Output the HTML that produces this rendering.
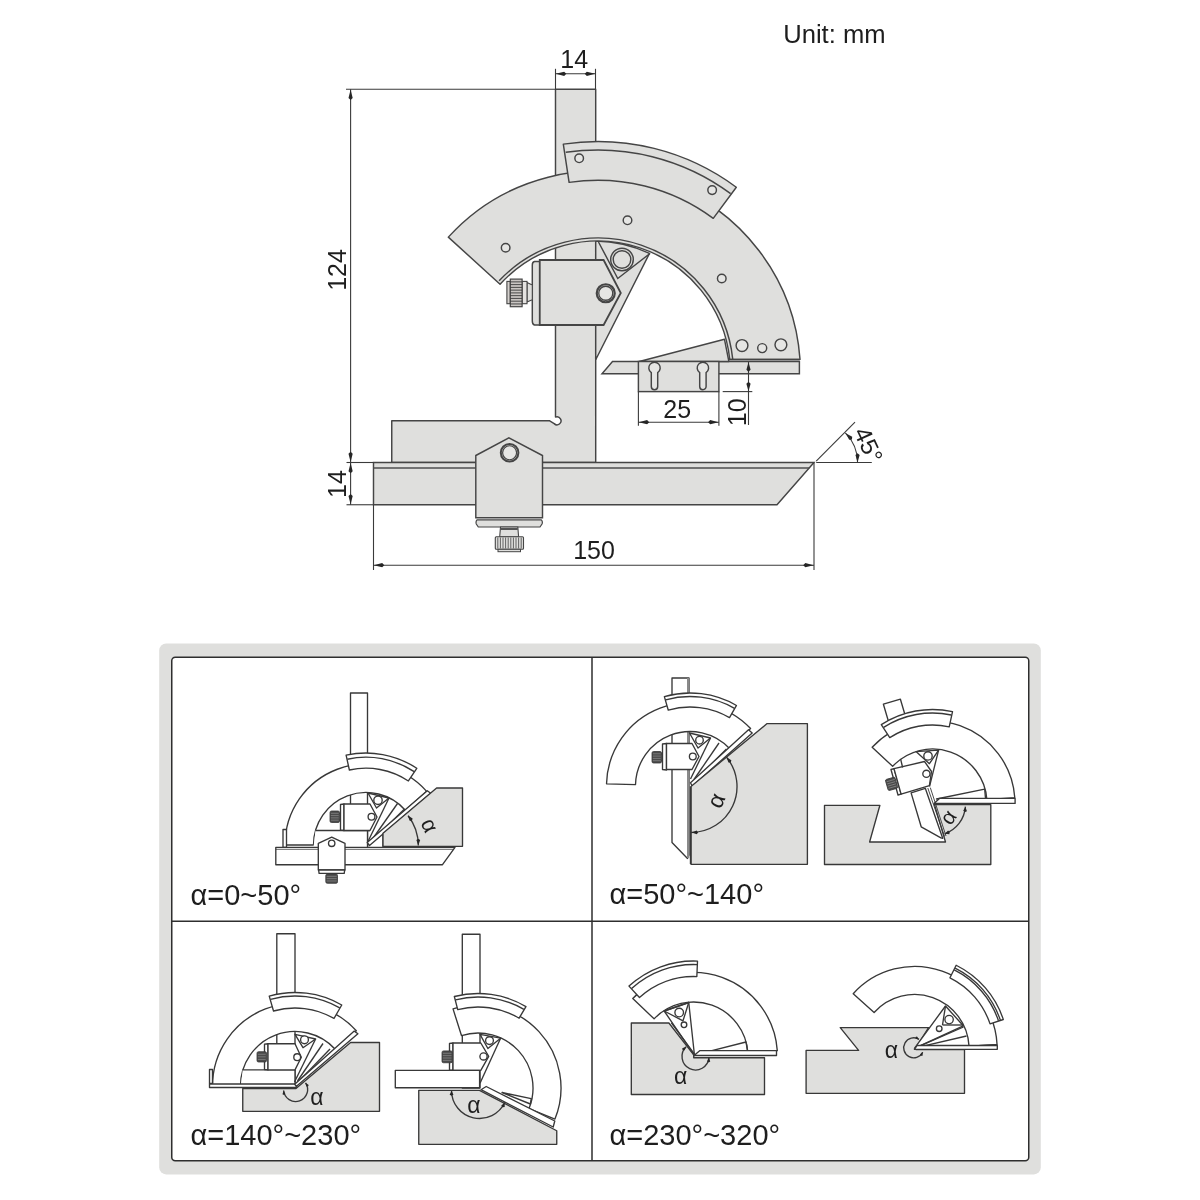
<!DOCTYPE html>
<html><head><meta charset="utf-8"><style>
html,body{margin:0;padding:0;background:#fff;overflow:hidden;}
svg{display:block;}
#wrap{will-change:transform;}
</style></head><body>
<div id="wrap"><svg width="1200" height="1200" viewBox="0 0 1200 1200">
<rect width="1200" height="1200" fill="#fff"/>
<path d="M555.5,89.2 L595.7,89.2 L595.7,462.5 L391.75,462.5 L391.75,420.7 L549.3,420.7 L554.17,423.63 A4.0,4.0 0 1 0 555.50,417.09 Z" fill="#dfdfdd" stroke="#454545" stroke-width="1.45" stroke-linejoin="round"/>
<path d="M595.70,241.02 L595.7,359.75 L649.5,253.4 A132.5,132.5 0 0 0 595.70,241.02 Z" fill="#dfdfdd" stroke="#454545" stroke-width="1.45"/>
<path d="M448.31,237.12 A202.5,202.5 0 0 1 800.01,359.40 L729.75,359.40 A132.5,132.5 0 0 0 500.06,284.26 Z" fill="#dfdfdd" stroke="#454545" stroke-width="1.45" stroke-linejoin="round"/>
<path d="M499.12,280.85 A135.5,135.5 0 0 1 732.76,359.40" fill="none" stroke="#454545" stroke-width="1.45"/>
<circle cx="505.65" cy="247.78" r="4.3" fill="#e6e6e4" stroke="#454545" stroke-width="1.45"/>
<circle cx="627.50" cy="220.31" r="4.3" fill="#e6e6e4" stroke="#454545" stroke-width="1.45"/>
<circle cx="721.76" cy="278.53" r="4.3" fill="#e6e6e4" stroke="#454545" stroke-width="1.45"/>
<circle cx="742" cy="345.5" r="5.9" fill="#e6e6e4" stroke="#454545" stroke-width="1.45"/>
<circle cx="762.2" cy="348.1" r="4.5" fill="#e6e6e4" stroke="#454545" stroke-width="1.45"/>
<circle cx="780.9" cy="344.75" r="5.9" fill="#e6e6e4" stroke="#454545" stroke-width="1.45"/>
<path d="M563.31,144.11 A232,232 0 0 1 736.32,187.25 L713.25,218.32 A193.3,193.3 0 0 0 569.09,182.37 Z" fill="#dfdfdd" stroke="#454545" stroke-width="1.45" stroke-linejoin="round"/>
<path d="M565.74,152.34 A223.5,223.5 0 0 1 730.63,193.61" fill="none" stroke="#454545" stroke-width="1.45"/>
<circle cx="579.17" cy="158.32" r="4.3" fill="#e6e6e4" stroke="#454545" stroke-width="1.45"/>
<circle cx="712.14" cy="190.12" r="4.3" fill="#e6e6e4" stroke="#454545" stroke-width="1.45"/>
<path d="M598.5,242 L617.75,278.5 L650,253.5" fill="none" stroke="#454545" stroke-width="1.45" stroke-linejoin="miter"/>
<circle cx="622" cy="259.5" r="11.3" fill="#dfdfdd" stroke="#454545" stroke-width="1.45"/>
<circle cx="622" cy="259.5" r="8.8" fill="#dfdfdd" stroke="#454545" stroke-width="1.45"/>
<path d="M539.75,261.5 L534.5,261.5 Q532.3,262 532.3,265 L532.3,321 Q532.3,324.5 534.5,325 L539.75,325" fill="#dfdfdd" stroke="#454545" stroke-width="1.45"/>
<path d="M539.75,260 L603.6,260 L620.8,293 L603.6,325 L539.75,325 Z" fill="#dfdfdd" stroke="#454545" stroke-width="1.8" stroke-linejoin="miter"/>
<circle cx="605.75" cy="293.25" r="9.0" fill="none" stroke="#454545" stroke-width="2.2"/>
<circle cx="605.75" cy="293.25" r="7.0" fill="#e6e6e4" stroke="#454545" stroke-width="1.3"/>
<path d="M527,282.6 L532.3,285 L532.3,299.8 L527,302 Z" fill="#dfdfdd" stroke="#454545" stroke-width="1.1" stroke-linejoin="round"/>
<rect x="522.1" y="281.4" width="4.9" height="22.3" fill="#e4e2e0" stroke="#454545" stroke-width="1.1"/>
<rect x="506.9" y="281.4" width="3.4" height="22.3" fill="#d4d0cd" stroke="#454545" stroke-width="1.1"/>
<rect x="510.3" y="279.1" width="11.8" height="27.6" fill="#c9c5c2" stroke="#454545" stroke-width="1.2"/>
<line x1="510.3" y1="281.86" x2="522.1" y2="281.86" stroke="#3a3a3a" stroke-width="0.9"/>
<line x1="510.3" y1="284.62" x2="522.1" y2="284.62" stroke="#3a3a3a" stroke-width="0.9"/>
<line x1="510.3" y1="287.38" x2="522.1" y2="287.38" stroke="#3a3a3a" stroke-width="0.9"/>
<line x1="510.3" y1="290.14" x2="522.1" y2="290.14" stroke="#3a3a3a" stroke-width="0.9"/>
<line x1="510.3" y1="292.90" x2="522.1" y2="292.90" stroke="#3a3a3a" stroke-width="0.9"/>
<line x1="510.3" y1="295.66" x2="522.1" y2="295.66" stroke="#3a3a3a" stroke-width="0.9"/>
<line x1="510.3" y1="298.42" x2="522.1" y2="298.42" stroke="#3a3a3a" stroke-width="0.9"/>
<line x1="510.3" y1="301.18" x2="522.1" y2="301.18" stroke="#3a3a3a" stroke-width="0.9"/>
<line x1="510.3" y1="303.94" x2="522.1" y2="303.94" stroke="#3a3a3a" stroke-width="0.9"/>
<path d="M612.5,361.5 L799.4,361.5 L799.4,373.75 L602,373.75 Z" fill="#dfdfdd" stroke="#454545" stroke-width="1.45"/>
<path d="M639.3,361.5 L724.5,339.3 L728.9,361.5 Z" fill="#dfdfdd" stroke="#454545" stroke-width="1.45" stroke-linejoin="round"/>
<line x1="728" y1="359.4" x2="799.4" y2="359.4" stroke="#454545" stroke-width="1.45"/>
<rect x="638.4" y="361.5" width="80.5" height="30.1" fill="#dfdfdd" stroke="#454545" stroke-width="1.45"/>
<path d="M651.3,372.6 A5.7,5.7 0 1 1 657.7,372.6 L657.7,386.5 A3.2,3.2 0 0 1 651.3,386.5 Z" fill="#e6e6e4" stroke="#454545" stroke-width="1.45"/>
<path d="M699.6999999999999,372.6 A5.7,5.7 0 1 1 706.1,372.6 L706.1,386.5 A3.2,3.2 0 0 1 699.6999999999999,386.5 Z" fill="#e6e6e4" stroke="#454545" stroke-width="1.45"/>
<path d="M373.5,462.5 L814,462.5 L777,504.75 L373.5,504.75 Z" fill="#dfdfdd" stroke="#454545" stroke-width="1.45" stroke-linejoin="miter"/>
<line x1="373.5" y1="468" x2="809.2" y2="468" stroke="#4e4e4e" stroke-width="1.3"/>
<path d="M475.8,455.5 L508.9,437.8 L542.5,455.5 L542.5,517.8 L475.8,517.8 Z" fill="#dfdfdd" stroke="#454545" stroke-width="1.45" stroke-linejoin="miter"/>
<circle cx="509.6" cy="452.75" r="8.8" fill="none" stroke="#454545" stroke-width="2.0"/>
<circle cx="509.6" cy="452.75" r="7.0" fill="#e6e6e4" stroke="#454545" stroke-width="1.2"/>
<path d="M477,519.9 L541.3,519.9 Q543,521.5 542,524 L540,527 L478.3,527 L476.3,524 Q475.5,521.5 477,519.9 Z" fill="#dfdfdd" stroke="#454545" stroke-width="1.2"/>
<path d="M500.5,527 L517.8,527 L518.6,536.7 L499.7,536.7 Z" fill="#dfdfdd" stroke="#454545" stroke-width="1.1"/>
<line x1="500.5" y1="529" x2="517.8" y2="529" stroke="#555" stroke-width="2"/>
<rect x="495.3" y="536.7" width="28.2" height="12.6" rx="1" fill="#dfdfdd" stroke="#454545" stroke-width="1.1"/>
<rect x="498" y="549.3" width="22.5" height="2.4" fill="#dfdfdd" stroke="#454545" stroke-width="1"/>
<line x1="497.8" y1="537.5" x2="497.8" y2="548.5" stroke="#555" stroke-width="0.9"/>
<line x1="500.4" y1="537.5" x2="500.4" y2="548.5" stroke="#555" stroke-width="0.9"/>
<line x1="503.0" y1="537.5" x2="503.0" y2="548.5" stroke="#555" stroke-width="0.9"/>
<line x1="505.6" y1="537.5" x2="505.6" y2="548.5" stroke="#555" stroke-width="0.9"/>
<line x1="508.2" y1="537.5" x2="508.2" y2="548.5" stroke="#555" stroke-width="0.9"/>
<line x1="510.8" y1="537.5" x2="510.8" y2="548.5" stroke="#555" stroke-width="0.9"/>
<line x1="513.4" y1="537.5" x2="513.4" y2="548.5" stroke="#555" stroke-width="0.9"/>
<line x1="516.0" y1="537.5" x2="516.0" y2="548.5" stroke="#555" stroke-width="0.9"/>
<line x1="518.6" y1="537.5" x2="518.6" y2="548.5" stroke="#555" stroke-width="0.9"/>
<line x1="521.2" y1="537.5" x2="521.2" y2="548.5" stroke="#555" stroke-width="0.9"/>
<line x1="346" y1="89.2" x2="555.5" y2="89.2" stroke="#3a3a3a" stroke-width="1.1"/>
<line x1="350.6" y1="89.2" x2="350.6" y2="504.75" stroke="#3a3a3a" stroke-width="1.1"/>
<line x1="346.5" y1="462.5" x2="373.5" y2="462.5" stroke="#3a3a3a" stroke-width="1.1"/>
<line x1="346.5" y1="504.75" x2="373.5" y2="504.75" stroke="#3a3a3a" stroke-width="1.1"/>
<path d="M350.60,89.50 L352.70,97.90 L350.60,100.00 L348.50,97.90 Z" fill="#262626"/>
<path d="M350.60,462.20 L348.50,453.80 L350.60,451.70 L352.70,453.80 Z" fill="#262626"/>
<path d="M350.60,462.80 L352.70,471.20 L350.60,473.30 L348.50,471.20 Z" fill="#262626"/>
<path d="M350.60,504.40 L348.50,496.00 L350.60,493.90 L352.70,496.00 Z" fill="#262626"/>
<line x1="555.5" y1="68.8" x2="555.5" y2="89.2" stroke="#3a3a3a" stroke-width="1.1"/>
<line x1="595.5" y1="68.8" x2="595.5" y2="89.2" stroke="#3a3a3a" stroke-width="1.1"/>
<line x1="555.5" y1="73.8" x2="595.5" y2="73.8" stroke="#3a3a3a" stroke-width="1.1"/>
<path d="M555.80,73.80 L564.20,71.70 L566.30,73.80 L564.20,75.90 Z" fill="#262626"/>
<path d="M595.20,73.80 L586.80,75.90 L584.70,73.80 L586.80,71.70 Z" fill="#262626"/>
<line x1="373.5" y1="504.75" x2="373.5" y2="570" stroke="#3a3a3a" stroke-width="1.1"/>
<line x1="814" y1="462.5" x2="814" y2="570" stroke="#3a3a3a" stroke-width="1.1"/>
<line x1="373.5" y1="565.2" x2="814" y2="565.2" stroke="#3a3a3a" stroke-width="1.1"/>
<path d="M373.80,565.20 L382.20,563.10 L384.30,565.20 L382.20,567.30 Z" fill="#262626"/>
<path d="M813.70,565.20 L805.30,567.30 L803.20,565.20 L805.30,563.10 Z" fill="#262626"/>
<line x1="638.4" y1="391.6" x2="638.4" y2="425.7" stroke="#3a3a3a" stroke-width="1.1"/>
<line x1="718.9" y1="391.6" x2="718.9" y2="425.7" stroke="#3a3a3a" stroke-width="1.1"/>
<line x1="638.4" y1="422.2" x2="718.9" y2="422.2" stroke="#3a3a3a" stroke-width="1.1"/>
<path d="M638.70,422.20 L647.10,420.10 L649.20,422.20 L647.10,424.30 Z" fill="#262626"/>
<path d="M718.60,422.20 L710.20,424.30 L708.10,422.20 L710.20,420.10 Z" fill="#262626"/>
<line x1="722.7" y1="391.6" x2="752.3" y2="391.6" stroke="#3a3a3a" stroke-width="1.1"/>
<line x1="748.5" y1="362" x2="748.5" y2="425" stroke="#3a3a3a" stroke-width="1.1"/>
<path d="M748.50,362.20 L750.60,369.80 L748.50,371.70 L746.40,369.80 Z" fill="#262626"/>
<path d="M748.50,391.30 L746.40,383.70 L748.50,381.80 L750.60,383.70 Z" fill="#262626"/>
<line x1="816.2" y1="461.2" x2="855" y2="422.2" stroke="#3a3a3a" stroke-width="1.1"/>
<line x1="816.2" y1="462.5" x2="871.8" y2="462.5" stroke="#3a3a3a" stroke-width="1.1"/>
<path d="M845.30,432.80 A42,42 0 0 1 857.60,462.50" fill="none" stroke="#3a3a3a" stroke-width="1.1"/>
<path d="M845.66,433.17 L852.19,436.85 L851.94,439.61 L849.18,439.79 Z" fill="#262626"/>
<path d="M857.60,462.13 L855.44,454.95 L857.52,453.13 L859.64,454.92 Z" fill="#262626"/>
<text x="574.2" y="68.3" font-family="Liberation Sans, sans-serif" font-size="25" fill="#1e1e1e" text-anchor="middle" >14</text>
<text x="0" y="0" transform="translate(345.6,270) rotate(-90)" font-family="Liberation Sans, sans-serif" font-size="25" fill="#1e1e1e" text-anchor="middle" >124</text>
<text x="0" y="0" transform="translate(345.5,484) rotate(-90)" font-family="Liberation Sans, sans-serif" font-size="25" fill="#1e1e1e" text-anchor="middle" >14</text>
<text x="594" y="559.3" font-family="Liberation Sans, sans-serif" font-size="25" fill="#1e1e1e" text-anchor="middle" >150</text>
<text x="677.2" y="418.1" font-family="Liberation Sans, sans-serif" font-size="25" fill="#1e1e1e" text-anchor="middle" >25</text>
<text x="0" y="0" transform="translate(746.3,412.3) rotate(-90)" font-family="Liberation Sans, sans-serif" font-size="25" fill="#1e1e1e" text-anchor="middle" >10</text>
<text x="0" y="0" transform="translate(861,448.5) rotate(65)" font-family="Liberation Sans, sans-serif" font-size="24" fill="#1e1e1e" text-anchor="middle" >45°</text>
<text x="783.2" y="42.9" font-family="Liberation Sans, sans-serif" font-size="25.6" fill="#1e1e1e" text-anchor="start" >Unit: mm</text>
<rect x="159.2" y="643.4" width="881.6" height="531" rx="7" fill="#dfdfdd"/>
<rect x="171.75" y="657.2" width="857" height="503.6" rx="3.5" fill="#fff" stroke="#2e2e2e" stroke-width="1.5"/>
<line x1="592" y1="657.2" x2="592" y2="1160.8" stroke="#2e2e2e" stroke-width="1.5"/>
<line x1="171.75" y1="921.2" x2="1028.75" y2="921.2" stroke="#2e2e2e" stroke-width="1.5"/>
<text x="190.5" y="904.7" font-family="Liberation Sans, sans-serif" font-size="29" fill="#1e1e1e" text-anchor="start" >α=0~50°</text>
<text x="609.5" y="904.2" font-family="Liberation Sans, sans-serif" font-size="29" fill="#1e1e1e" text-anchor="start" >α=50°~140°</text>
<text x="190.5" y="1144.7" font-family="Liberation Sans, sans-serif" font-size="29" fill="#1e1e1e" text-anchor="start" >α=140°~230°</text>
<text x="609.5" y="1144.7" font-family="Liberation Sans, sans-serif" font-size="29" fill="#1e1e1e" text-anchor="start" >α=230°~320°</text>
<path d="M350.50,693.00 L367.50,693.00 L367.50,847.50 L350.50,847.50 Z" fill="#ffffff" stroke="#383838" stroke-width="1.35" stroke-linejoin="round" />
<path d="M285.00,845.00 A81,81 0 0 1 426.67,791.33 L405.32,810.21 A52.5,52.5 0 0 0 313.50,845.00 Z" fill="#ffffff" stroke="#383838" stroke-width="1.35" stroke-linejoin="round"/>
<path d="M283.00,829.50 L286.50,829.50 L286.50,847.50 L283.00,847.50 Z" fill="#ffffff" stroke="#383838" stroke-width="1.35" stroke-linejoin="round" />
<path d="M346.09,755.18 A92,92 0 0 1 416.78,768.28 L408.39,780.96 A76.8,76.8 0 0 0 349.38,770.02 Z" fill="#ffffff" stroke="#383838" stroke-width="1.35" stroke-linejoin="round"/>
<path d="M347.30,759.22 A87.8,87.8 0 0 1 414.20,771.62" fill="none" stroke="#383838" stroke-width="1.35"/>
<path d="M315.5,830.5 L367.5,830.5 L367.5,847.5 L313.5,847.5 Z" fill="#ffffff" stroke="none"/>
<line x1="315.50" y1="830.50" x2="370.00" y2="830.50" stroke="#383838" stroke-width="1.35"/>
<line x1="367.50" y1="830.50" x2="367.50" y2="847.50" stroke="#383838" stroke-width="1.35"/>
<path d="M340.50,804.50 L344.00,804.00 L344.00,830.50 L340.50,830.00 Z" fill="#ffffff" stroke="#383838" stroke-width="1.35" stroke-linejoin="round" />
<path d="M344.00,804.00 L370.00,804.00 L377.00,817.00 L370.00,830.50 L344.00,830.50 Z" fill="#ffffff" stroke="#383838" stroke-width="1.35" stroke-linejoin="round" />
<circle cx="371.50" cy="816.80" r="3.4" fill="#ffffff" stroke="#383838" stroke-width="1.35"/>
<rect x="330" y="811" width="9.5" height="11.5" rx="1.5" fill="#4a4a4a" stroke="#383838" stroke-width="0.8"/>
<line x1="330.8" y1="813.30" x2="338.7" y2="813.30" stroke="#9a9a9a" stroke-width="0.6"/>
<line x1="330.8" y1="815.60" x2="338.7" y2="815.60" stroke="#9a9a9a" stroke-width="0.6"/>
<line x1="330.8" y1="817.90" x2="338.7" y2="817.90" stroke="#9a9a9a" stroke-width="0.6"/>
<line x1="330.8" y1="820.20" x2="338.7" y2="820.20" stroke="#9a9a9a" stroke-width="0.6"/>
<line x1="339.50" y1="813.50" x2="340.50" y2="813.50" stroke="#383838" stroke-width="1.35"/>
<line x1="339.50" y1="820.00" x2="340.50" y2="820.00" stroke="#383838" stroke-width="1.35"/>
<path d="M368.00,793.00 L389.00,798.00 L376.50,808.00 Z" fill="none" stroke="#383838" stroke-width="1.35" stroke-linejoin="round" />
<circle cx="378.00" cy="800.30" r="4.2" fill="#ffffff" stroke="#383838" stroke-width="1.35"/>
<line x1="389.00" y1="798.00" x2="367.50" y2="842.50" stroke="#383838" stroke-width="1.35"/>
<line x1="397.50" y1="803.50" x2="371.50" y2="840.50" stroke="#383838" stroke-width="1.35"/>
<line x1="404.50" y1="809.00" x2="375.00" y2="838.00" stroke="#383838" stroke-width="1.35"/>
<line x1="383.00" y1="835.00" x2="383.00" y2="847.20" stroke="#383838" stroke-width="1.35"/>
<path d="M427.30,790.80 L430.70,793.20 L369.50,845.50 L367.20,842.50 Z" fill="#ffffff" stroke="#383838" stroke-width="1.35" stroke-linejoin="round" />
<path d="M436.60,788.00 L462.50,788.00 L462.50,846.30 L383.00,846.30 L383.00,833.20 Z" fill="#dfdfdd" stroke="#383838" stroke-width="1.35" stroke-linejoin="round" />
<path d="M275.80,847.30 L455.00,847.30 L442.50,864.70 L275.80,864.70 Z" fill="#ffffff" stroke="#383838" stroke-width="1.35" stroke-linejoin="round" />
<line x1="275.80" y1="849.30" x2="453.50" y2="849.30" stroke="#383838" stroke-width="0.8"/>
<path d="M318.30,843.30 L331.70,837.20 L345.00,843.30 L345.00,870.00 L318.30,870.00 Z" fill="#ffffff" stroke="#383838" stroke-width="1.35" stroke-linejoin="round" />
<circle cx="331.70" cy="843.30" r="3.2" fill="#ffffff" stroke="#383838" stroke-width="1.35"/>
<path d="M318.60,870.00 L344.70,870.00 L344.20,873.30 L319.10,873.30 Z" fill="#ffffff" stroke="#383838" stroke-width="1.35" stroke-linejoin="round" />
<rect x="325.8" y="874" width="11.699999999999989" height="9.299999999999955" rx="1.5" fill="#4a4a4a" stroke="#383838" stroke-width="0.8"/>
<line x1="326.6" y1="876.33" x2="336.7" y2="876.33" stroke="#9a9a9a" stroke-width="0.6"/>
<line x1="326.6" y1="878.65" x2="336.7" y2="878.65" stroke="#9a9a9a" stroke-width="0.6"/>
<line x1="326.6" y1="880.97" x2="336.7" y2="880.97" stroke="#9a9a9a" stroke-width="0.6"/>
<path d="M408.06,815.76 A48.3,48.3 0 0 1 418.30,845.50" fill="none" stroke="#383838" stroke-width="1.35"/>
<path d="M407.90,815.56 L412.62,818.47 L411.93,820.67 L409.64,820.82 Z" fill="#262626"/>
<path d="M418.30,845.25 L416.37,840.06 L418.27,838.75 L420.17,840.04 Z" fill="#262626"/>
<text x="0" y="0" transform="translate(423.01622560157637,828.4638644659483) rotate(65)" font-family="Liberation Sans, sans-serif" font-size="22" fill="#1e1e1e" text-anchor="middle">α</text>
<path d="M672.00,678.00 L689.00,678.00 L689.00,855.00 L687.50,858.50 L672.00,842.50 Z" fill="#ffffff" stroke="#383838" stroke-width="1.35" stroke-linejoin="round" />
<rect x="687" y="678" width="2.2" height="180" fill="#8a8a8a"/>
<path d="M606.53,783.81 A83.5,83.5 0 0 1 750.57,728.52 L729.53,748.48 A54.5,54.5 0 0 0 635.52,784.57 Z" fill="#ffffff" stroke="#383838" stroke-width="1.35" stroke-linejoin="round"/>
<path d="M664.37,696.60 A93,93 0 0 1 736.50,705.46 L729.50,717.58 A79,79 0 0 0 668.22,710.06 Z" fill="#ffffff" stroke="#383838" stroke-width="1.35" stroke-linejoin="round"/>
<path d="M665.63,699.88 A89.5,89.5 0 0 1 734.48,708.33" fill="none" stroke="#383838" stroke-width="1.35"/>
<path d="M662.50,744.00 L666.50,743.50 L666.50,770.00 L662.50,769.50 Z" fill="#ffffff" stroke="#383838" stroke-width="1.35" stroke-linejoin="round" />
<path d="M666.50,743.50 L692.00,743.50 L699.00,756.50 L692.00,769.50 L666.50,769.50 Z" fill="#ffffff" stroke="#383838" stroke-width="1.35" stroke-linejoin="round" />
<circle cx="692.80" cy="756.50" r="3.4" fill="#ffffff" stroke="#383838" stroke-width="1.35"/>
<rect x="652" y="751.5" width="9.5" height="11.5" rx="1.5" fill="#4a4a4a" stroke="#383838" stroke-width="0.8"/>
<line x1="652.8" y1="753.80" x2="660.7" y2="753.80" stroke="#9a9a9a" stroke-width="0.6"/>
<line x1="652.8" y1="756.10" x2="660.7" y2="756.10" stroke="#9a9a9a" stroke-width="0.6"/>
<line x1="652.8" y1="758.40" x2="660.7" y2="758.40" stroke="#9a9a9a" stroke-width="0.6"/>
<line x1="652.8" y1="760.70" x2="660.7" y2="760.70" stroke="#9a9a9a" stroke-width="0.6"/>
<line x1="661.50" y1="754.00" x2="662.50" y2="754.00" stroke="#383838" stroke-width="1.35"/>
<line x1="661.50" y1="760.50" x2="662.50" y2="760.50" stroke="#383838" stroke-width="1.35"/>
<path d="M689.50,733.00 L710.50,738.00 L698.00,748.00 Z" fill="none" stroke="#383838" stroke-width="1.35" stroke-linejoin="round" />
<circle cx="699.50" cy="740.20" r="3.8" fill="#ffffff" stroke="#383838" stroke-width="1.35"/>
<line x1="710.50" y1="738.00" x2="690.50" y2="779.00" stroke="#383838" stroke-width="1.35"/>
<line x1="719.00" y1="743.00" x2="694.00" y2="779.50" stroke="#383838" stroke-width="1.35"/>
<line x1="726.50" y1="749.00" x2="697.50" y2="778.00" stroke="#383838" stroke-width="1.35"/>
<path d="M748.50,729.80 L752.20,733.00 L692.20,786.20 L690.50,782.80 Z" fill="#ffffff" stroke="#383838" stroke-width="1.35" stroke-linejoin="round" />
<path d="M767.10,723.60 L807.40,723.60 L807.40,864.30 L691.00,864.30 L691.00,786.40 Z" fill="#dfdfdd" stroke="#383838" stroke-width="1.35" stroke-linejoin="round" />
<line x1="690.60" y1="786.50" x2="690.60" y2="864.00" stroke="#383838" stroke-width="1.6"/>
<path d="M726.24,756.93 A46,46 0 0 1 691.00,832.50" fill="none" stroke="#383838" stroke-width="1.35"/>
<path d="M726.60,757.36 L731.36,760.19 L730.71,762.39 L728.42,762.59 Z" fill="#262626"/>
<path d="M691.56,832.50 L696.74,830.53 L698.06,832.42 L696.78,834.33 Z" fill="#262626"/>
<text x="0" y="0" transform="translate(723.3104770817927,803.6815062281421) rotate(-67)" font-family="Liberation Sans, sans-serif" font-size="23" fill="#1e1e1e" text-anchor="middle">α</text>
<path d="M824.50,805.30 L879.90,805.30 L869.60,842.00 L945.50,842.00 L934.50,804.60 L990.80,804.60 L990.80,864.50 L824.50,864.50 Z" fill="#dfdfdd" stroke="#383838" stroke-width="1.35" stroke-linejoin="round" />
<path d="M872.16,747.24 A82.5,82.5 0 0 1 1014.80,797.75 L986.87,799.70 A54.5,54.5 0 0 0 892.64,766.33 Z" fill="#ffffff" stroke="#383838" stroke-width="1.35" stroke-linejoin="round"/>
<path d="M883.40,704.20 L900.40,699.20 L905.50,716.50 L888.50,721.50 Z" fill="#ffffff" stroke="#383838" stroke-width="1.35" stroke-linejoin="round" />
<path d="M881.30,724.66 A94,94 0 0 1 952.52,711.66 L949.22,726.80 A78.5,78.5 0 0 0 889.75,737.66 Z" fill="#ffffff" stroke="#383838" stroke-width="1.35" stroke-linejoin="round"/>
<path d="M883.61,727.34 A90.5,90.5 0 0 1 951.32,714.98" fill="none" stroke="#383838" stroke-width="1.35"/>
<path d="M911.10,792.90 L925.30,788.30 L942.70,838.30 L940.90,837.80 L921.20,826.80 Z" fill="#ffffff" stroke="#383838" stroke-width="1.35" stroke-linejoin="round" />
<line x1="927.80" y1="788.00" x2="944.50" y2="836.50" stroke="#383838" stroke-width="0.9"/>
<line x1="930.30" y1="787.60" x2="946.00" y2="836.00" stroke="#383838" stroke-width="0.9"/>
<path d="M891.00,769.50 L894.00,768.60 L901.10,794.10 L898.00,795.00 Z" fill="#ffffff" stroke="#383838" stroke-width="1.35" stroke-linejoin="round" />
<path d="M894.00,768.60 L924.50,761.50 L931.50,771.50 L929.40,785.60 L901.10,794.10 Z" fill="#ffffff" stroke="#383838" stroke-width="1.35" stroke-linejoin="round" />
<circle cx="926.40" cy="773.80" r="3.6" fill="#ffffff" stroke="#383838" stroke-width="1.35"/>
<g transform="rotate(-16 892 783.5)">
<rect x="886.5" y="778" width="10.0" height="11.5" rx="1.5" fill="#4a4a4a" stroke="#383838" stroke-width="0.8"/>
<line x1="887.3" y1="780.30" x2="895.7" y2="780.30" stroke="#9a9a9a" stroke-width="0.6"/>
<line x1="887.3" y1="782.60" x2="895.7" y2="782.60" stroke="#9a9a9a" stroke-width="0.6"/>
<line x1="887.3" y1="784.90" x2="895.7" y2="784.90" stroke="#9a9a9a" stroke-width="0.6"/>
<line x1="887.3" y1="787.20" x2="895.7" y2="787.20" stroke="#9a9a9a" stroke-width="0.6"/>
</g>
<line x1="902.60" y1="767.50" x2="900.60" y2="758.80" stroke="#383838" stroke-width="1.35"/>
<path d="M916.00,751.60 L938.60,750.20 L929.40,763.70 Z" fill="none" stroke="#383838" stroke-width="1.35" stroke-linejoin="round" />
<circle cx="928.00" cy="755.90" r="4.2" fill="#ffffff" stroke="#383838" stroke-width="1.35"/>
<line x1="938.60" y1="750.20" x2="929.50" y2="786.50" stroke="#383838" stroke-width="1.35"/>
<path d="M936.50,799.00 L984.70,789.20 L985.50,798.40 Z" fill="#ffffff" stroke="#383838" stroke-width="1.35" stroke-linejoin="round" />
<path d="M939.50,798.40 L1015.10,798.40 L1015.10,803.40 L934.00,803.40 Z" fill="#ffffff" stroke="#383838" stroke-width="1.35" stroke-linejoin="round" />
<path d="M965.42,806.66 A31,31 0 0 1 944.59,833.81" fill="none" stroke="#383838" stroke-width="1.35"/>
<path d="M965.40,807.04 L966.96,811.18 L964.99,812.02 L963.17,810.87 Z" fill="#262626"/>
<path d="M944.95,833.69 L948.08,830.55 L949.66,832.00 L949.36,834.13 Z" fill="#262626"/>
<text x="0" y="0" transform="translate(954.1135940912689,821.3119085078148) rotate(-56)" font-family="Liberation Sans, sans-serif" font-size="21" fill="#1e1e1e" text-anchor="middle">α</text>
<path d="M276.80,933.70 L295.00,933.70 L295.00,1086.00 L276.80,1086.00 Z" fill="#ffffff" stroke="#383838" stroke-width="1.35" stroke-linejoin="round" />
<path d="M212.50,1086.00 A82.5,82.5 0 0 1 356.31,1030.80 L335.50,1049.53 A54.5,54.5 0 0 0 240.50,1086.00 Z" fill="#ffffff" stroke="#383838" stroke-width="1.35" stroke-linejoin="round"/>
<path d="M209.50,1069.50 L212.50,1069.50 L212.50,1083.50 L209.50,1083.50 Z" fill="#ffffff" stroke="#383838" stroke-width="1.35" stroke-linejoin="round" />
<path d="M269.23,996.12 A93.5,93.5 0 0 1 341.75,1005.03 L334.00,1018.45 A78,78 0 0 0 273.50,1011.02 Z" fill="#ffffff" stroke="#383838" stroke-width="1.35" stroke-linejoin="round"/>
<path d="M270.49,999.40 A90,90 0 0 1 339.73,1007.90" fill="none" stroke="#383838" stroke-width="1.35"/>
<path d="M242.7,1069.9 L295,1069.9 L295,1084 L241,1084 Z" fill="#ffffff" stroke="none"/>
<line x1="242.70" y1="1069.90" x2="295.00" y2="1069.90" stroke="#383838" stroke-width="1.35"/>
<line x1="295.00" y1="1069.90" x2="295.00" y2="1084.00" stroke="#383838" stroke-width="1.35"/>
<path d="M264.50,1044.20 L268.00,1043.75 L268.00,1069.90 L264.50,1069.50 Z" fill="#ffffff" stroke="#383838" stroke-width="1.35" stroke-linejoin="round" />
<path d="M268.00,1043.75 L295.00,1043.75 L301.30,1057.20 L295.00,1069.90 L268.00,1069.90 Z" fill="#ffffff" stroke="#383838" stroke-width="1.35" stroke-linejoin="round" />
<circle cx="297.20" cy="1057.20" r="3.4" fill="#ffffff" stroke="#383838" stroke-width="1.35"/>
<rect x="257" y="1051.7" width="9.5" height="10.299999999999955" rx="1.5" fill="#4a4a4a" stroke="#383838" stroke-width="0.8"/>
<line x1="257.8" y1="1054.28" x2="265.7" y2="1054.28" stroke="#9a9a9a" stroke-width="0.6"/>
<line x1="257.8" y1="1056.85" x2="265.7" y2="1056.85" stroke="#9a9a9a" stroke-width="0.6"/>
<line x1="257.8" y1="1059.42" x2="265.7" y2="1059.42" stroke="#9a9a9a" stroke-width="0.6"/>
<path d="M295.00,1034.30 L315.60,1039.00 L303.00,1047.70 Z" fill="none" stroke="#383838" stroke-width="1.35" stroke-linejoin="round" />
<circle cx="304.50" cy="1039.80" r="3.9" fill="#ffffff" stroke="#383838" stroke-width="1.35"/>
<line x1="315.60" y1="1039.00" x2="294.50" y2="1082.00" stroke="#383838" stroke-width="1.35"/>
<line x1="323.00" y1="1043.50" x2="297.50" y2="1081.00" stroke="#383838" stroke-width="1.35"/>
<line x1="330.00" y1="1049.00" x2="300.00" y2="1080.00" stroke="#383838" stroke-width="1.35"/>
<path d="M209.50,1084.00 L295.00,1084.00 L297.00,1087.50 L209.50,1087.50 Z" fill="#ffffff" stroke="#383838" stroke-width="1.35" stroke-linejoin="round" />
<path d="M242.75,1088.50 L296.00,1088.50 L350.60,1042.50 L379.50,1042.50 L379.50,1111.30 L242.75,1111.30 Z" fill="#dfdfdd" stroke="#383838" stroke-width="1.35" stroke-linejoin="round" />
<path d="M294.70,1084.20 L354.25,1031.10 L357.90,1033.80 L296.50,1086.30 Z" fill="#ffffff" stroke="#383838" stroke-width="1.35" stroke-linejoin="round" />
<path d="M305.55,1082.79 A12,12 0 1 1 283.65,1090.55" fill="none" stroke="#383838" stroke-width="1.35"/>
<path d="M305.49,1082.70 L308.68,1084.88 L308.04,1086.41 L306.37,1086.46 Z" fill="#262626"/>
<path d="M283.64,1090.44 L285.32,1093.92 L283.99,1094.93 L282.52,1094.14 Z" fill="#262626"/>
<text x="0" y="0" transform="translate(316.9,1105.095) rotate(0)" font-family="Liberation Sans, sans-serif" font-size="23" fill="#1e1e1e" text-anchor="middle">α</text>
<path d="M462.30,934.20 L480.00,934.20 L480.00,1088.00 L462.30,1088.00 Z" fill="#ffffff" stroke="#383838" stroke-width="1.35" stroke-linejoin="round" />
<path d="M453.04,1008.84 A83,83 0 0 1 554.96,1119.09 L529.00,1108.60 A55,55 0 0 0 461.46,1035.55 Z" fill="#ffffff" stroke="#383838" stroke-width="1.35" stroke-linejoin="round"/>
<path d="M454.34,996.51 A94.5,94.5 0 0 1 525.96,1006.58 L519.11,1018.21 A81,81 0 0 0 457.72,1009.58 Z" fill="#ffffff" stroke="#383838" stroke-width="1.35" stroke-linejoin="round"/>
<path d="M455.52,999.82 A91,91 0 0 1 523.91,1009.43" fill="none" stroke="#383838" stroke-width="1.35"/>
<path d="M449.50,1043.40 L453.00,1043.00 L453.00,1070.30 L449.50,1069.90 Z" fill="#ffffff" stroke="#383838" stroke-width="1.35" stroke-linejoin="round" />
<path d="M453.00,1043.00 L480.80,1043.00 L488.70,1056.40 L480.80,1070.30 L453.00,1070.30 Z" fill="#ffffff" stroke="#383838" stroke-width="1.35" stroke-linejoin="round" />
<circle cx="483.50" cy="1056.40" r="3.6" fill="#ffffff" stroke="#383838" stroke-width="1.35"/>
<rect x="442" y="1050.9" width="10.300000000000011" height="11.849999999999909" rx="1.5" fill="#4a4a4a" stroke="#383838" stroke-width="0.8"/>
<line x1="442.8" y1="1053.27" x2="451.5" y2="1053.27" stroke="#9a9a9a" stroke-width="0.6"/>
<line x1="442.8" y1="1055.64" x2="451.5" y2="1055.64" stroke="#9a9a9a" stroke-width="0.6"/>
<line x1="442.8" y1="1058.01" x2="451.5" y2="1058.01" stroke="#9a9a9a" stroke-width="0.6"/>
<line x1="442.8" y1="1060.38" x2="451.5" y2="1060.38" stroke="#9a9a9a" stroke-width="0.6"/>
<path d="M480.00,1034.30 L500.60,1038.20 L487.90,1048.50 Z" fill="none" stroke="#383838" stroke-width="1.35" stroke-linejoin="round" />
<circle cx="489.50" cy="1040.60" r="3.9" fill="#ffffff" stroke="#383838" stroke-width="1.35"/>
<line x1="500.60" y1="1038.20" x2="480.00" y2="1083.30" stroke="#383838" stroke-width="1.35"/>
<path d="M395.30,1070.30 L479.60,1070.30 L479.60,1087.70 L395.30,1087.70 Z" fill="#ffffff" stroke="#383838" stroke-width="1.35" stroke-linejoin="round" />
<path d="M418.75,1090.30 L479.50,1090.30 L556.75,1130.75 L556.75,1144.30 L418.75,1144.30 Z" fill="#dfdfdd" stroke="#383838" stroke-width="1.35" stroke-linejoin="round" />
<path d="M502.00,1092.50 L531.20,1098.60 L530.40,1104.00 Z" fill="none" stroke="#383838" stroke-width="1.35" stroke-linejoin="round" />
<path d="M486.20,1086.50 L554.80,1121.00 L553.20,1127.00 L481.00,1089.70 Z" fill="#ffffff" stroke="#383838" stroke-width="1.35" stroke-linejoin="round" />
<path d="M504.88,1102.33 A28,28 0 0 1 451.50,1090.50" fill="none" stroke="#383838" stroke-width="1.35"/>
<path d="M504.73,1102.64 L504.71,1107.07 L502.56,1107.15 L501.28,1105.42 Z" fill="#262626"/>
<path d="M451.50,1090.84 L453.45,1094.82 L451.56,1095.84 L449.65,1094.86 Z" fill="#262626"/>
<text x="0" y="0" transform="translate(473.9,1112.895) rotate(0)" font-family="Liberation Sans, sans-serif" font-size="23" fill="#1e1e1e" text-anchor="middle">α</text>
<path d="M631.30,1023.00 L668.90,1023.00 L693.70,1054.80 L693.70,1057.70 L764.50,1057.70 L764.50,1094.50 L631.30,1094.50 Z" fill="#dfdfdd" stroke="#383838" stroke-width="1.35" stroke-linejoin="round" />
<path d="M632.77,998.47 A84,84 0 0 1 777.30,1050.64 L747.87,1052.70 A54.5,54.5 0 0 0 654.10,1018.85 Z" fill="#ffffff" stroke="#383838" stroke-width="1.35" stroke-linejoin="round"/>
<path d="M628.98,986.09 A95.5,95.5 0 0 1 697.50,961.08 L696.85,976.57 A80,80 0 0 0 639.45,997.52 Z" fill="#ffffff" stroke="#383838" stroke-width="1.35" stroke-linejoin="round"/>
<path d="M631.58,988.45 A92,92 0 0 1 697.03,964.57" fill="none" stroke="#383838" stroke-width="1.35"/>
<path d="M664.20,1011.00 L688.75,1002.50 L694.50,1055.50 Z" fill="#ffffff" stroke="#383838" stroke-width="1.35" stroke-linejoin="round" />
<path d="M664.20,1011.00 L688.75,1002.50 L683.00,1020.80 Z" fill="none" stroke="#383838" stroke-width="1.35" stroke-linejoin="round" />
<circle cx="679.20" cy="1012.50" r="4.3" fill="#ffffff" stroke="#383838" stroke-width="1.35"/>
<circle cx="684.00" cy="1024.80" r="2.8" fill="#ffffff" stroke="#383838" stroke-width="1.35"/>
<line x1="671.40" y1="1022.80" x2="694.30" y2="1053.90" stroke="#383838" stroke-width="1.35"/>
<path d="M705.00,1052.30 L746.00,1042.00 L747.70,1052.00 Z" fill="none" stroke="#383838" stroke-width="1.35" stroke-linejoin="round" />
<path d="M700.00,1050.60 L776.50,1050.60 L776.50,1055.50 L694.00,1055.50 Z" fill="#ffffff" stroke="#383838" stroke-width="1.35" stroke-linejoin="round" />
<path d="M708.95,1057.68 A13.5,13.5 0 1 1 686.12,1046.79" fill="none" stroke="#383838" stroke-width="1.35"/>
<path d="M708.96,1057.51 L710.26,1061.62 L708.59,1062.50 L707.07,1061.38 Z" fill="#262626"/>
<path d="M686.24,1046.68 L684.43,1050.58 L682.60,1050.10 L682.23,1048.25 Z" fill="#262626"/>
<text x="0" y="0" transform="translate(680.6,1084.295) rotate(0)" font-family="Liberation Sans, sans-serif" font-size="23" fill="#1e1e1e" text-anchor="middle">α</text>
<path d="M840.25,1027.60 L928.60,1027.60 L916.00,1047.50 L916.00,1049.50 L964.50,1049.50 L964.50,1093.30 L806.10,1093.30 L806.10,1050.40 L858.60,1050.40 Z" fill="#dfdfdd" stroke="#383838" stroke-width="1.35" stroke-linejoin="round" />
<path d="M853.22,993.73 A82.6,82.6 0 0 1 997.09,1044.68 L969.03,1046.15 A54.5,54.5 0 0 0 874.10,1012.53 Z" fill="#ffffff" stroke="#383838" stroke-width="1.35" stroke-linejoin="round"/>
<path d="M956.17,965.25 A93.5,93.5 0 0 1 1003.32,1019.49 L990.04,1023.91 A79.5,79.5 0 0 0 949.95,977.79 Z" fill="#ffffff" stroke="#383838" stroke-width="1.35" stroke-linejoin="round"/>
<path d="M955.12,968.08 A90.5,90.5 0 0 1 1000.37,1020.13" fill="none" stroke="#383838" stroke-width="1.35"/>
<path d="M954.23,969.87 A88.5,88.5 0 0 1 998.48,1020.77" fill="none" stroke="#383838" stroke-width="1.35"/>
<path d="M914.40,1048.30 L945.50,1006.00 L963.30,1025.80 Z" fill="#ffffff" stroke="#383838" stroke-width="1.35" stroke-linejoin="round" />
<line x1="945.50" y1="1006.00" x2="942.50" y2="1025.00" stroke="#383838" stroke-width="1.35"/>
<line x1="942.50" y1="1025.00" x2="963.00" y2="1025.00" stroke="#383838" stroke-width="1.35"/>
<circle cx="949.10" cy="1019.60" r="4.2" fill="#ffffff" stroke="#383838" stroke-width="1.35"/>
<circle cx="939.20" cy="1028.70" r="2.8" fill="#ffffff" stroke="#383838" stroke-width="1.35"/>
<line x1="915.50" y1="1047.80" x2="966.50" y2="1036.00" stroke="#383838" stroke-width="1.35"/>
<line x1="915.50" y1="1047.80" x2="963.50" y2="1027.00" stroke="#383838" stroke-width="1.35"/>
<path d="M969.03,1046.15 L997.09,1044.68" stroke="#383838" stroke-width="1.35"/>
<path d="M917.00,1045.50 L997.30,1045.50 L997.30,1049.30 L914.40,1049.30 Z" fill="#ffffff" stroke="#383838" stroke-width="1.35" stroke-linejoin="round" />
<path d="M922.69,1052.18 A10,10 0 1 1 919.00,1039.32" fill="none" stroke="#383838" stroke-width="1.35"/>
<path d="M922.74,1052.07 L922.57,1055.71 L920.95,1055.87 L920.04,1054.51 Z" fill="#262626"/>
<path d="M919.10,1039.38 L915.52,1038.75 L915.57,1037.12 L917.03,1036.39 Z" fill="#262626"/>
<text x="0" y="0" transform="translate(891.3,1058.4950000000001) rotate(0)" font-family="Liberation Sans, sans-serif" font-size="23" fill="#1e1e1e" text-anchor="middle">α</text>
</svg></div></body></html>
